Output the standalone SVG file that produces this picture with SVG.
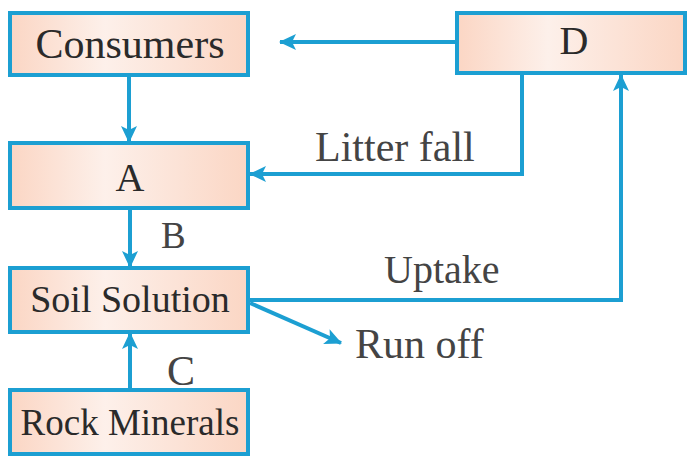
<svg xmlns="http://www.w3.org/2000/svg" width="689" height="456" viewBox="0 0 689 456">
  <style>
    .box { stroke: #1c9fd2; stroke-width: 4; fill: url(#peach); }
    .lbl { fill: #2a2a2a; text-anchor: middle; }
    .edge { fill: #444; }
    .conn { stroke: #1c9fd2; stroke-width: 4; fill: none; }
  </style>
  <defs>
    <linearGradient id="peach" x1="0" y1="0" x2="1" y2="0">
      <stop offset="0" stop-color="#fbd6c4"/>
      <stop offset="0.4" stop-color="#fdf0ea"/>
      <stop offset="1" stop-color="#fbd6c4"/>
    </linearGradient>
    <marker id="arr" markerUnits="userSpaceOnUse" markerWidth="18" markerHeight="18" viewBox="0 0 18 18" refX="16" refY="9" orient="auto">
      <path d="M0,1 L17,9 L0,17 L4,9 Z" fill="#1c9fd2"/>
    </marker>
  </defs>
  <rect width="689" height="456" fill="#ffffff"/>

  <g font-family="'Liberation Serif', 'DejaVu Serif', serif">
  <g id="connectors">
    <line class="conn" x1="457" y1="42" x2="280" y2="42" marker-end="url(#arr)"/>
    <line class="conn" x1="129" y1="75" x2="129" y2="142" marker-end="url(#arr)"/>
    <path class="conn" d="M522,73 V174 H250" marker-end="url(#arr)"/>
    <line class="conn" x1="130" y1="208" x2="130" y2="267" marker-end="url(#arr)"/>
    <path class="conn" d="M248,300 H621 V75" marker-end="url(#arr)"/>
    <line class="conn" x1="250" y1="303" x2="341" y2="343" marker-end="url(#arr)"/>
    <line class="conn" x1="130" y1="390" x2="130" y2="333" marker-end="url(#arr)"/>
    <text class="edge" x="315" y="161" font-size="42">Litter fall</text>
    <text class="edge" x="384" y="283" font-size="40">Uptake</text>
    <text class="edge" x="355" y="358" font-size="42">Run off</text>
    <text class="edge" x="161" y="248" font-size="37" fill="#333">B</text>
    <text class="edge" x="167" y="385" font-size="42">C</text>
  </g>

  <g id="consumers">
    <rect class="box" x="10" y="13" width="238" height="62"/>
    <text class="lbl" x="130" y="58" font-size="42">Consumers</text>
  </g>
  <g id="a">
    <rect class="box" x="10" y="143" width="238" height="65"/>
    <text class="lbl" x="130" y="191" font-size="40">A</text>
  </g>
  <g id="soil-solution">
    <rect class="box" x="10" y="268" width="238" height="64"/>
    <text class="lbl" x="130" y="312" font-size="38">Soil Solution</text>
  </g>
  <g id="rock-minerals">
    <rect class="box" x="10" y="390" width="238" height="64"/>
    <text class="lbl" x="130" y="435" font-size="37">Rock Minerals</text>
  </g>
  <g id="d">
    <rect class="box" x="457" y="13" width="228" height="60"/>
    <text class="lbl" x="574" y="54" font-size="40">D</text>
  </g>
  </g>
</svg>
